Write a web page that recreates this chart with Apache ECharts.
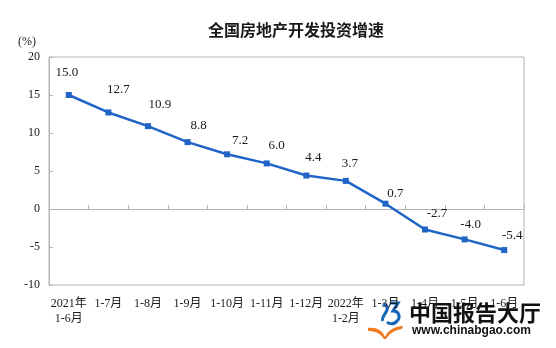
<!DOCTYPE html>
<html>
<head>
<meta charset="utf-8">
<script src="https://cdn.jsdelivr.net/npm/echarts@6/dist/echarts.min.js"></script>
<style>
  html, body { margin: 0; padding: 0; background: #fff; }
  #chart { width: 556px; height: 348px; }
</style>
</head>
<body>
<div id="chart"></div>
<script>
// Cumulative periods (two-line labels where a year is given)
var periods = ['2021年\n1-6月', '1-7月', '1-8月', '1-9月', '1-10月', '1-11月', '1-12月',
               '2022年\n1-2月', '1-3月', '1-4月', '1-5月', '1-6月'];
// Year-on-year growth of national real-estate development investment (%)
var growth = [15.0, 12.7, 10.9, 8.8, 7.2, 6.0, 4.4, 3.7, 0.7, -2.7, -4.0, -5.4];
// Value-axis ticks
var yTicks = { min: -10, max: 20, step: 5 };

// Per-label nudges so each value sits up and to the right of its marker
var labelNudge = [[-2, -9], [10, -9], [12, -8], [11, -3.5], [13, -0.5], [10, -4.5],
                  [7, -4.5], [4, -3.5], [10, 3.5], [12, -2.5], [6, -1.5], [8, -0.5]];

var serif = '"Liberation Serif", "Times New Roman", "Noto Sans CJK SC", serif';
var blue = '#1f64c6';

// Publisher mark shapes
echarts.graphic.registerShape('logoBook', echarts.graphic.extendPath(
  'M368,328 C376,327 382,330 385,337 C388,330 395,326 403,326 L402,329 C395,330 390,333 386,339 L384,339 C380,333 375,331 368,331 Z'
));
echarts.graphic.registerShape('logoSwirl', echarts.graphic.extendPath(
  'M383,305 C386,303 389,308 386,312 C384,316 381,318 383,321 M390,303 L398,303 L393,311 C399,311 401,317 397,321 C394,325 389,324 387,322'
));

var chart = echarts.init(document.getElementById('chart'), null, { renderer: 'canvas' });

var seriesData = growth.map(function (v, i) {
  return {
    value: v,
    label: { offset: labelNudge[i] }
  };
});

chart.setOption({
  animation: false,
  backgroundColor: '#ffffff',
  title: {
    text: '全国房地产开发投资增速',
    left: 291,
    top: 17,
    textAlign: 'center',
    textStyle: {
      fontFamily: '"Noto Sans CJK SC", sans-serif',
      fontSize: 16,
      fontWeight: 'bold',
      color: '#1a1a1a'
    }
  },
  grid: {
    left: 49, right: 32, top: 57, bottom: 63,
    show: true,
    borderColor: '#b4b4b4',
    borderWidth: 1,
    containLabel: false
  },
  xAxis: {
    type: 'category',
    data: periods,
    boundaryGap: true,
    axisLine: { lineStyle: { color: '#b4b4b4', width: 1 } },
    axisTick: { show: true, inside: true, length: 4, interval: 0, lineStyle: { color: '#b4b4b4' } },
    axisLabel: {
      interval: 0,
      margin: 11,
      fontFamily: serif,
      fontSize: 12,
      lineHeight: 15,
      color: '#1a1a1a'
    },
    splitLine: { show: false }
  },
  yAxis: {
    type: 'value',
    min: yTicks.min,
    max: yTicks.max,
    interval: yTicks.step,
    axisLine: { show: true, lineStyle: { color: '#b4b4b4', width: 1 } },
    axisTick: { show: true, inside: true, length: 4, lineStyle: { color: '#b4b4b4' } },
    axisLabel: {
      margin: 9,
      fontFamily: serif,
      fontSize: 12,
      color: '#1a1a1a'
    },
    splitLine: { show: false }
  },
  series: [{
    type: 'line',
    data: seriesData,
    symbol: 'rect',
    symbolSize: 6,
    lineStyle: { color: blue, width: 2.5 },
    itemStyle: { color: blue },
    label: {
      show: true,
      position: 'top',
      distance: 4,
      fontFamily: serif,
      fontSize: 13,
      color: '#1a1a1a',
      formatter: function (p) { return p.value.toFixed(1); }
    }
  }],
  graphic: [
    // unit of the value axis
    {
      type: 'text',
      left: 18,
      top: 36,
      style: {
        text: '(%)',
        font: '12px "Liberation Serif", "Times New Roman", serif',
        fill: '#1a1a1a'
      }
    },
    { type: 'logoBook', style: { fill: '#f07a1e' } },
    { type: 'logoSwirl', style: { stroke: '#1565b8', lineWidth: 3, fill: null } },
    {
      type: 'text',
      left: 409,
      top: 302,
      style: {
        text: '中国报告大厅',
        font: 'bold 22px "Noto Sans CJK SC", sans-serif',
        fill: '#111111'
      }
    },
    {
      type: 'text',
      left: 412,
      top: 325,
      style: {
        text: 'www.chinabgao.com',
        font: 'bold 12px "Liberation Sans", Arial, sans-serif',
        fill: '#111111'
      }
    }
  ]
});
</script>
</body>
</html>
